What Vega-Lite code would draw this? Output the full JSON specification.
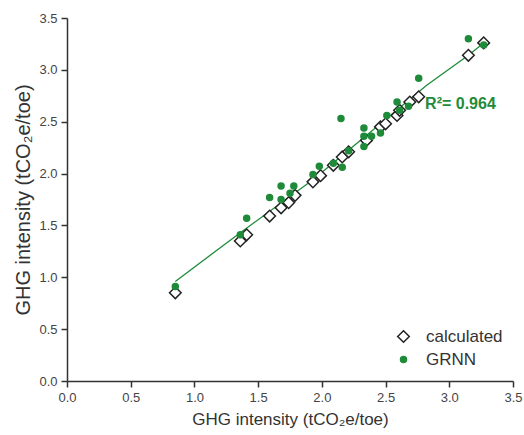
{
  "$schema": "https://vega.github.io/schema/vega-lite/v6.json",
  "width": 446,
  "height": 363,
  "autosize": "none",
  "padding": {"left": 67, "top": 18, "right": 11, "bottom": 54},
  "background": "white",
  "config": {
    "view": {"stroke": null},
    "font": "Liberation Sans",
    "axis": {
      "grid": false,
      "domainColor": "#333333",
      "domainWidth": 1.5,
      "tickColor": "#333333",
      "tickWidth": 1.5,
      "labelFont": "Liberation Sans",
      "labelFontSize": 13,
      "labelColor": "#444444",
      "titleFont": "Liberation Sans",
      "titleFontWeight": "normal",
      "titleColor": "#333333"
    }
  },
  "datasets": {
    "pts": [
      {"actual": 0.85, "value": 0.85, "series": "calculated"},
      {"actual": 1.36, "value": 1.35, "series": "calculated"},
      {"actual": 1.41, "value": 1.41, "series": "calculated"},
      {"actual": 1.59, "value": 1.59, "series": "calculated"},
      {"actual": 1.68, "value": 1.67, "series": "calculated"},
      {"actual": 1.74, "value": 1.72, "series": "calculated"},
      {"actual": 1.79, "value": 1.79, "series": "calculated"},
      {"actual": 1.93, "value": 1.92, "series": "calculated"},
      {"actual": 1.99, "value": 1.98, "series": "calculated"},
      {"actual": 2.09, "value": 2.08, "series": "calculated"},
      {"actual": 2.16, "value": 2.16, "series": "calculated"},
      {"actual": 2.21, "value": 2.21, "series": "calculated"},
      {"actual": 2.35, "value": 2.32, "series": "calculated"},
      {"actual": 2.46, "value": 2.45, "series": "calculated"},
      {"actual": 2.50, "value": 2.48, "series": "calculated"},
      {"actual": 2.59, "value": 2.56, "series": "calculated"},
      {"actual": 2.61, "value": 2.61, "series": "calculated"},
      {"actual": 2.69, "value": 2.69, "series": "calculated"},
      {"actual": 2.76, "value": 2.74, "series": "calculated"},
      {"actual": 3.15, "value": 3.14, "series": "calculated"},
      {"actual": 3.27, "value": 3.26, "series": "calculated"},
      {"actual": 0.85, "value": 0.91, "series": "GRNN"},
      {"actual": 1.36, "value": 1.41, "series": "GRNN"},
      {"actual": 1.41, "value": 1.57, "series": "GRNN"},
      {"actual": 1.59, "value": 1.77, "series": "GRNN"},
      {"actual": 1.68, "value": 1.88, "series": "GRNN"},
      {"actual": 1.68, "value": 1.75, "series": "GRNN"},
      {"actual": 1.75, "value": 1.81, "series": "GRNN"},
      {"actual": 1.78, "value": 1.88, "series": "GRNN"},
      {"actual": 1.93, "value": 1.99, "series": "GRNN"},
      {"actual": 1.98, "value": 2.07, "series": "GRNN"},
      {"actual": 2.09, "value": 2.10, "series": "GRNN"},
      {"actual": 2.16, "value": 2.06, "series": "GRNN"},
      {"actual": 2.15, "value": 2.53, "series": "GRNN"},
      {"actual": 2.21, "value": 2.22, "series": "GRNN"},
      {"actual": 2.33, "value": 2.44, "series": "GRNN"},
      {"actual": 2.33, "value": 2.36, "series": "GRNN"},
      {"actual": 2.33, "value": 2.26, "series": "GRNN"},
      {"actual": 2.39, "value": 2.36, "series": "GRNN"},
      {"actual": 2.46, "value": 2.39, "series": "GRNN"},
      {"actual": 2.51, "value": 2.56, "series": "GRNN"},
      {"actual": 2.59, "value": 2.69, "series": "GRNN"},
      {"actual": 2.61, "value": 2.61, "series": "GRNN"},
      {"actual": 2.68, "value": 2.65, "series": "GRNN"},
      {"actual": 2.76, "value": 2.92, "series": "GRNN"},
      {"actual": 3.15, "value": 3.30, "series": "GRNN"},
      {"actual": 3.27, "value": 3.24, "series": "GRNN"}
    ],
    "fit": [
      {"actual": 0.85, "value": 0.96},
      {"actual": 1.36, "value": 1.43},
      {"actual": 1.93, "value": 1.94},
      {"actual": 2.46, "value": 2.48},
      {"actual": 2.82, "value": 2.85},
      {"actual": 3.15, "value": 3.14},
      {"actual": 3.27, "value": 3.26}
    ],
    "note": [
      {"actual": 2.81, "value": 2.67, "label": "R²= 0.964"}
    ]
  },
  "layer": [
    {
      "data": {"name": "fit"},
      "mark": {"type": "line", "color": "#1f8b3a", "strokeWidth": 1.3},
      "encoding": {
        "x": {
          "field": "actual", "type": "quantitative",
          "scale": {"domain": [0, 3.5], "nice": false, "zero": false},
          "axis": {
            "title": "GHG intensity (tCO₂e/toe)",
            "titleFontSize": 17,
            "values": [0, 0.25, 0.5, 0.75, 1, 1.25, 1.5, 1.75, 2, 2.25, 2.5, 2.75, 3, 3.25, 3.5],
            "labelExpr": "datum.value % 0.5 === 0 ? format(datum.value, '.1f') : ''",
            "tickSize": {"condition": {"test": "datum.value % 0.5 === 0", "value": 6}, "value": 3},
            "labelPadding": 4,
            "titlePadding": 7,
            "labelFlush": false,
            "labelOverlap": false
          }
        },
        "y": {
          "field": "value", "type": "quantitative",
          "scale": {"domain": [0, 3.5], "nice": false, "zero": false},
          "axis": {
            "title": "GHG intensity (tCO₂e/toe)",
            "titleFontSize": 20,
            "values": [0, 0.25, 0.5, 0.75, 1, 1.25, 1.5, 1.75, 2, 2.25, 2.5, 2.75, 3, 3.25, 3.5],
            "labelExpr": "datum.value % 0.5 === 0 ? format(datum.value, '.1f') : ''",
            "tickSize": {"condition": {"test": "datum.value % 0.5 === 0", "value": 6}, "value": 3},
            "labelPadding": 4,
            "titlePadding": 5,
            "labelFlush": false,
            "labelOverlap": false
          }
        }
      }
    },
    {
      "data": {"name": "pts"},
      "mark": {"type": "point", "filled": false, "strokeWidth": 1.5, "opacity": 1},
      "encoding": {
        "x": {"field": "actual", "type": "quantitative"},
        "y": {"field": "value", "type": "quantitative"},
        "shape": {
          "field": "series", "type": "nominal",
          "scale": {"domain": ["calculated", "GRNN"], "range": ["diamond", "circle"]},
          "legend": {
            "title": null,
            "orient": "none",
            "legendX": 328,
            "legendY": 310,
            "labelFontSize": 17,
            "labelFont": "Liberation Sans",
            "labelColor": "#333333",
            "rowPadding": 4,
            "labelOffset": 14
          }
        },
        "fill": {
          "field": "series", "type": "nominal",
          "scale": {"domain": ["calculated", "GRNN"], "range": ["white", "#1f8b3a"]}
        },
        "stroke": {
          "field": "series", "type": "nominal",
          "scale": {"domain": ["calculated", "GRNN"], "range": ["#222222", "#1f8b3a"]}
        },
        "size": {
          "field": "series", "type": "nominal",
          "scale": {"domain": ["calculated", "GRNN"], "range": [135, 36]}
        }
      }
    },
    {
      "data": {"name": "note"},
      "mark": {"type": "text", "align": "left", "baseline": "middle", "fontSize": 16, "fontWeight": "bold", "color": "#1f8b3a", "font": "Liberation Sans"},
      "encoding": {
        "x": {"field": "actual", "type": "quantitative"},
        "y": {"field": "value", "type": "quantitative"},
        "text": {"field": "label"}
      }
    }
  ]
}
